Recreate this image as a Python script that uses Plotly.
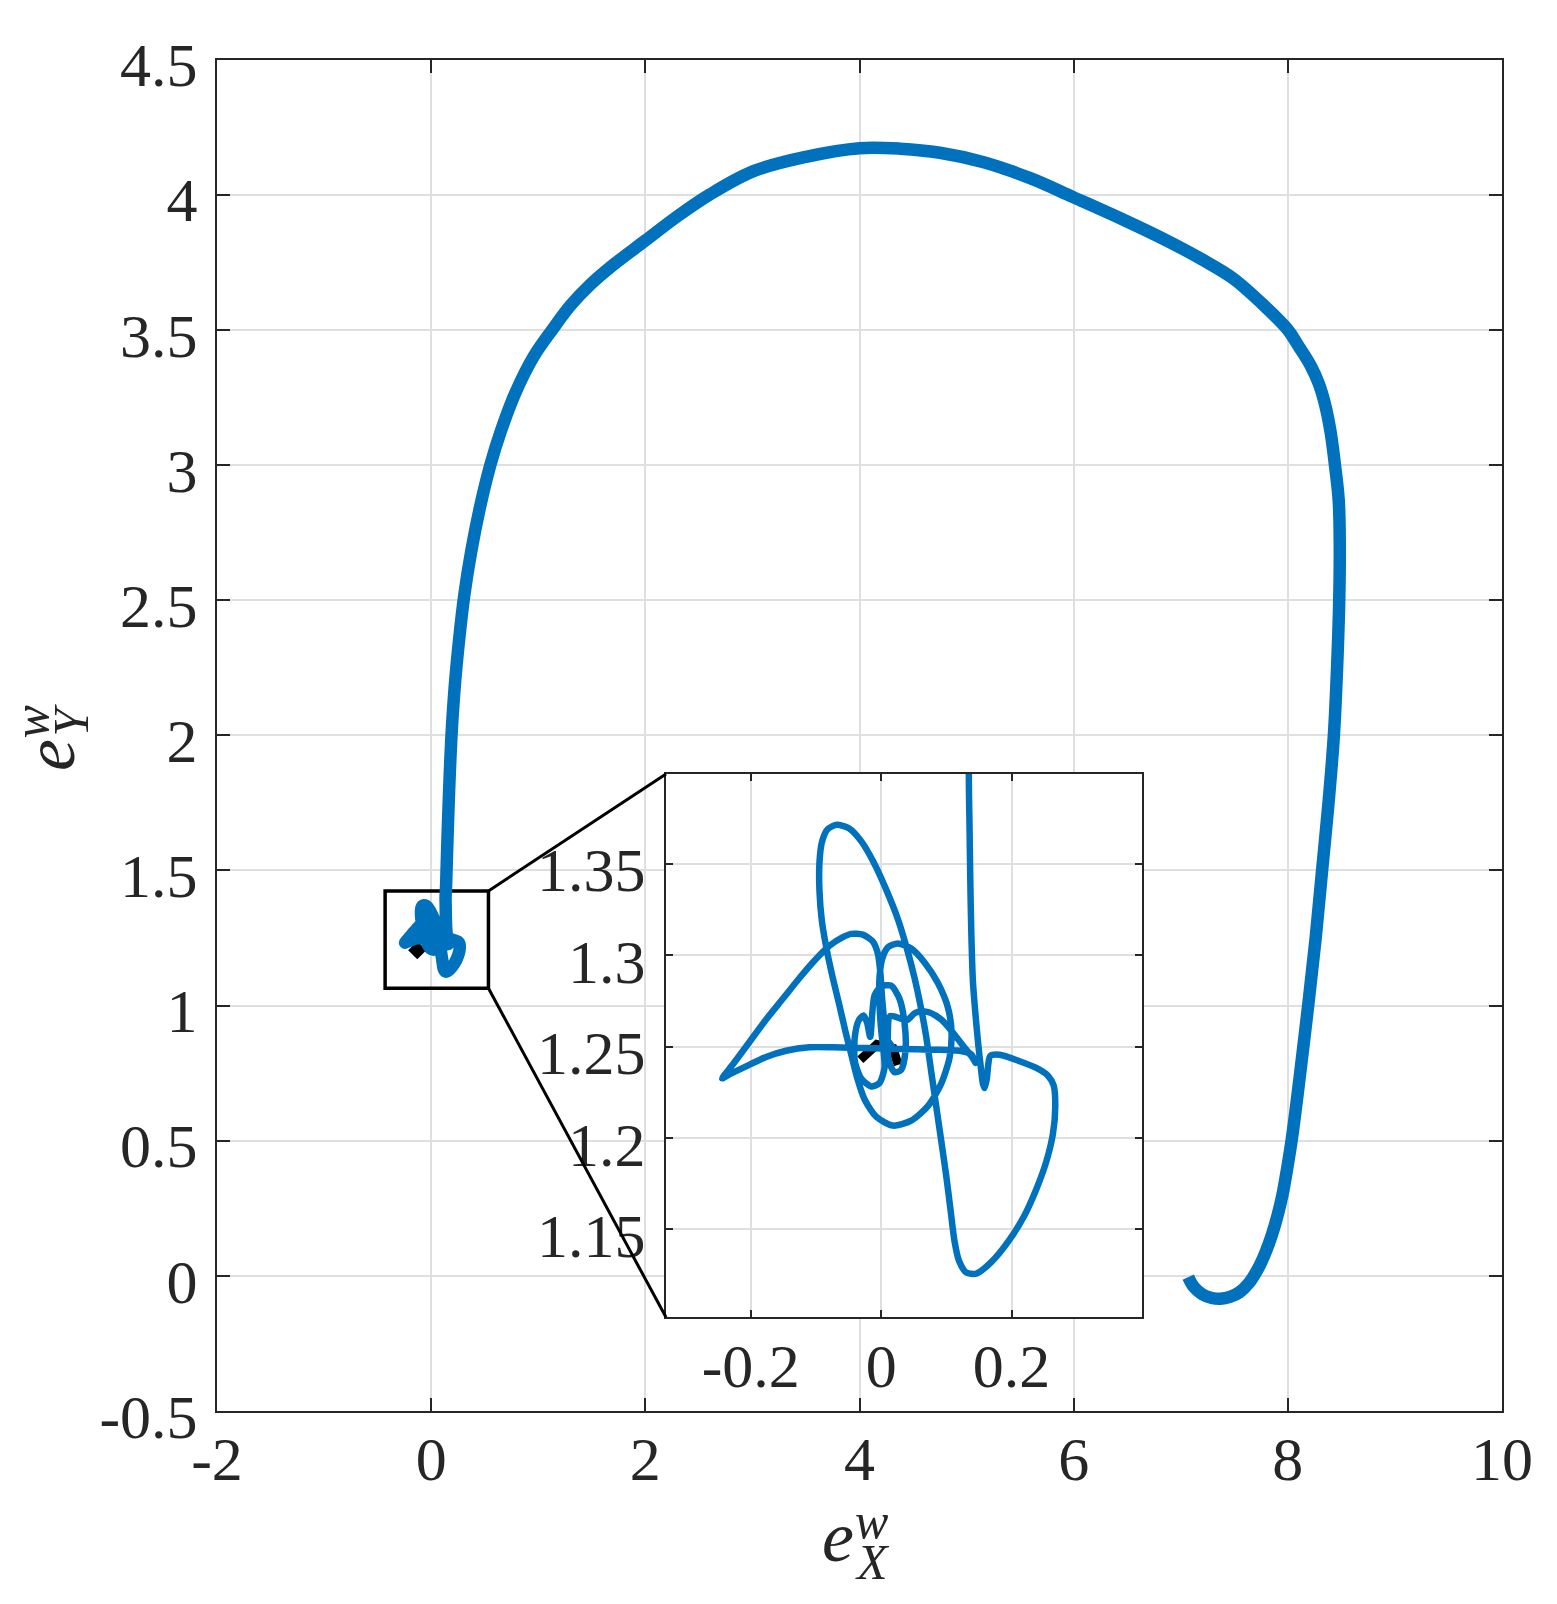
import plotly.graph_objects as go

# ---------------- data ----------------
# large excursion: from the start (bottom right) up, over the top and down into the zoom box
loop_x = [7.07, 7.12, 7.20, 7.29, 7.37, 7.46, 7.55, 7.64, 7.72, 7.79, 7.85, 7.905, 7.95, 7.995, 8.035,
          8.075, 8.115, 8.19, 8.26, 8.32, 8.38, 8.43, 8.46, 8.48, 8.485, 8.475, 8.44, 8.40, 8.35, 8.29, 8.21,
          8.10, 8.0, 7.75, 7.49, 7.2, 6.87, 6.45, 6.0, 5.6, 5.16, 4.75, 4.38, 4.0, 3.5, 3.01,
          2.6, 2.3, 2.0, 1.7, 1.48, 1.30, 1.13, 0.955, 0.79, 0.655, 0.553, 0.454, 0.374, 0.31,
          0.26, 0.22, 0.19, 0.17, 0.155, 0.145, 0.14]
loop_y = [-0.005, -0.04, -0.068, -0.082, -0.085, -0.078, -0.06, -0.025, 0.025, 0.085, 0.15, 0.225, 0.30, 0.40, 0.50,
          0.62, 0.75, 1.0, 1.25, 1.5, 1.75, 2.0, 2.25, 2.5, 2.7, 2.87, 3.0, 3.12, 3.22, 3.30, 3.37,
          3.44, 3.50, 3.60, 3.69, 3.76, 3.83, 3.91, 3.99, 4.06, 4.12, 4.155, 4.17, 4.172, 4.14, 4.087,
          4.0, 3.92, 3.83, 3.74, 3.665, 3.59, 3.5, 3.40, 3.27, 3.13, 3.0, 2.84, 2.68, 2.52,
          2.35, 2.18, 2.0, 1.82, 1.65, 1.52, 1.45]

# small oscillations inside the zoom box (as seen in the inset)
detail_x = [0.1345, 0.1355, 0.1366, 0.1381, 0.1407, 0.1448, 0.1488, 0.1529, 0.1560, 0.1586, 0.1621, 0.1642, 0.1673,
            0.1816, 0.2123, 0.2379, 0.2558, 0.2645,
            0.2670, 0.2634, 0.2532, 0.2379, 0.2199, 0.1969, 0.1688, 0.1458, 0.1304, 0.1192, 0.1125, 0.1064,
            0.0997, 0.0921, 0.0844, 0.0767, 0.0691, 0.0614, 0.0512, 0.0394, 0.0256, 0.0077, -0.0118, -0.0307,
            -0.0496, -0.0680, -0.0818, -0.0905, -0.0946, -0.0946, -0.0910, -0.0834, -0.0742, -0.0639, -0.0547,
            -0.0460, -0.0373, -0.0256, -0.0077, 0.0179, 0.0460, 0.0716, 0.0921, 0.1049, 0.1079, 0.1023, 0.0870,
            0.0665, 0.0460, 0.0256, 0.0102, 0.0015, -0.0026, -0.0026, 0.0000, 0.0036,
            0.0051, -0.0026, -0.0153, -0.0307, -0.0404, -0.0404, -0.0343, -0.0271, -0.0215, -0.0169,
            -0.0102, 0.0000, 0.0153, 0.0281, 0.0358, 0.0373, 0.0307, 0.0205, 0.0118, 0.0102, 0.0138,
            0.0394, 0.0512, 0.0614, 0.0742, 0.0921, 0.1090, 0.1253, 0.1381, 0.1448,
            0.1381, 0.1202, 0.0793, 0.0281, -0.0230, -0.0742, -0.1100, -0.1458, -0.1765, -0.2072, -0.2327, -0.2440,
            -0.2276, -0.2020, -0.1765, -0.1509, -0.1253, -0.1049, -0.0793, -0.0588, -0.0460, -0.0281, -0.0128,
            -0.0051, -0.0015, 0.0015, 0.0051, 0.0102, 0.0179]
detail_y = [1.3992, 1.3708, 1.3424, 1.3140, 1.2856, 1.2667, 1.2515, 1.2383, 1.2297, 1.2273, 1.2326, 1.2402, 1.2449,
            1.2455, 1.2420, 1.2383, 1.2341, 1.2288,
            1.2174, 1.2023, 1.1871, 1.1720, 1.1578, 1.1445, 1.1322, 1.1259, 1.1265, 1.1331, 1.1436, 1.1606,
            1.1795, 1.1985, 1.2174, 1.2364, 1.2553, 1.2705, 1.2875, 1.3036, 1.3197, 1.3358, 1.3509, 1.3623,
            1.3693, 1.3712, 1.3689, 1.3623, 1.3509, 1.3348, 1.3188, 1.3027, 1.2875, 1.2723, 1.2581,
            1.2458, 1.2335, 1.2212, 1.2117, 1.2068, 1.2095, 1.2174, 1.2297, 1.2439, 1.2581, 1.2714, 1.2847,
            1.2960, 1.3036, 1.3064, 1.3042, 1.2979, 1.2875, 1.2742, 1.2591, 1.2477,
            1.2383, 1.2301, 1.2282, 1.2326, 1.2420, 1.2553, 1.2644, 1.2670, 1.2629, 1.2553,
            1.2780, 1.2828, 1.2833, 1.2761, 1.2629, 1.2477, 1.2373, 1.2360, 1.2420, 1.2553, 1.2667,
            1.2644, 1.2682, 1.2693, 1.2686, 1.2648, 1.2581, 1.2506, 1.2449, 1.2411,
            1.2458, 1.2477, 1.2483, 1.2487, 1.2492, 1.2496, 1.2496, 1.2477, 1.2443, 1.2392, 1.2348, 1.2326,
            1.2402, 1.2525, 1.2648, 1.2761, 1.2875, 1.2960, 1.3051, 1.3098, 1.3116, 1.3112, 1.3074,
            1.3008, 1.2913, 1.2761, 1.2629, 1.2534, 1.2496]

traj_x = loop_x + detail_x
traj_y = loop_y + detail_y

# black reference mark
ref_x = [-0.032, -0.0066, 0.018, 0.026]
ref_y = [1.2428, 1.2511, 1.249, 1.240]
mark_x = [-0.13]
mark_y = [1.205]

# zoom box (main axes data units)
box_x = [-0.43, 0.535]
box_y = [1.064, 1.424]

main_xticks = [-2, 0, 2, 4, 6, 8, 10]
main_xlabels = ["-2", "0", "2", "4", "6", "8", "10"]
main_yticks = [-0.5, 0, 0.5, 1, 1.5, 2, 2.5, 3, 3.5, 4, 4.5]
main_ylabels = ["-0.5", "0", "0.5", "1", "1.5", "2", "2.5", "3", "3.5", "4", "4.5"]
inset_xticks = [-0.2, 0, 0.2]
inset_xlabels = ["-0.2", "0", "0.2"]
inset_yticks = [1.15, 1.2, 1.25, 1.3, 1.35]
inset_ylabels = ["1.15", "1.2", "1.25", "1.3", "1.35"]

main_xrange = [-2, 10]
main_yrange = [-0.5, 4.5]
inset_xrange = [-0.33, 0.4]
inset_yrange = [1.102, 1.399]

# ---------------- layout geometry (screen pixels -> paper) ----------------
OFF = 8                      # default page margin around the figure
W, H = 1557 - 2 * OFF, 1604 - 2 * OFF


def sx(px):
    return (px - OFF) / W


def sy(py):
    return 1 - (py - OFF) / H


main_xdom = [sx(217), sx(1502)]
main_ydom = [sy(1411), sy(59.5)]
inset_xdom = [sx(666), sx(1142)]
inset_ydom = [sy(1317.3), sy(774)]

BLUE = "#0072BD"
AX = "#262626"
GRID = "#dfdfdf"
FONT = "Liberation Serif"

fig = go.Figure()
fig.add_trace(go.Scatter(x=mark_x, y=mark_y, mode="markers",
                         marker=dict(symbol="diamond", size=14, color="black"),
                         xaxis="x", yaxis="y", hoverinfo="skip"))
fig.add_trace(go.Scatter(x=traj_x, y=traj_y, mode="lines",
                         line=dict(color=BLUE, width=12.5, shape="spline", smoothing=1.0),
                         xaxis="x", yaxis="y", hoverinfo="skip"))
fig.add_trace(go.Scatter(x=ref_x, y=ref_y, mode="lines",
                         line=dict(color="black", width=9),
                         xaxis="x2", yaxis="y2", hoverinfo="skip"))
fig.add_trace(go.Scatter(x=traj_x, y=traj_y, mode="lines",
                         line=dict(color=BLUE, width=6.5, shape="spline", smoothing=0.7),
                         xaxis="x2", yaxis="y2", hoverinfo="skip"))


def axis(dom, rng, tv, tt, anchor, ticklen, standoff, shift):
    return dict(domain=dom, range=rng, tickvals=tv, ticktext=tt, anchor=anchor,
                ticks="inside", ticklen=ticklen, tickwidth=2, tickcolor=AX,
                showline=True, linecolor=AX, linewidth=2, mirror="ticks",
                showgrid=True, gridcolor=GRID, gridwidth=2, zeroline=False,
                tickfont=dict(family=FONT, size=62, color=AX), automargin=False,
                ticklabelstandoff=standoff, ticklabelshift=shift, fixedrange=True)


fig.update_layout(
    width=W, height=H, margin=dict(l=0, r=0, t=0, b=0, autoexpand=False),
    paper_bgcolor="white", plot_bgcolor="white", showlegend=False,
    xaxis=axis(main_xdom, main_xrange, main_xticks, main_xlabels, "y", 13, -7, 0),
    yaxis=axis(main_ydom, main_yrange, main_yticks, main_ylabels, "x", 13, 5, 5),
    xaxis2=axis(inset_xdom, inset_xrange, inset_xticks, inset_xlabels, "y2", 7, -7, 0),
    yaxis2=axis(inset_ydom, inset_yrange, inset_yticks, inset_ylabels, "x2", 7, 6, 6),
)


# zoom box and connector lines
def paper_to_main(px, py):
    dx = main_xrange[0] + (px - main_xdom[0]) / (main_xdom[1] - main_xdom[0]) * (main_xrange[1] - main_xrange[0])
    dy = main_yrange[0] + (py - main_ydom[0]) / (main_ydom[1] - main_ydom[0]) * (main_yrange[1] - main_yrange[0])
    return dx, dy


tl = paper_to_main(inset_xdom[0], inset_ydom[1])
bl = paper_to_main(inset_xdom[0], inset_ydom[0])
fig.add_shape(type="rect", xref="x", yref="y", x0=box_x[0], x1=box_x[1], y0=box_y[0], y1=box_y[1],
              line=dict(color="black", width=3.5), layer="between")
fig.add_shape(type="line", xref="x", yref="y", x0=box_x[1], y0=box_y[1], x1=tl[0], y1=tl[1],
              line=dict(color="black", width=3), layer="above")
fig.add_shape(type="line", xref="x", yref="y", x0=box_x[1], y0=box_y[0], x1=bl[0], y1=bl[1],
              line=dict(color="black", width=3), layer="above")


# axis labels e^w_X and e^w_Y (positions in screen pixels)
def lab(text, x, y, size, angle=0):
    fig.add_annotation(text=text, x=sx(x), y=sy(y), xref="paper", yref="paper",
                       showarrow=False, xanchor="center", yanchor="middle", textangle=angle,
                       font=dict(family=FONT, size=size, color=AX, style="italic"))


lab("e", 837.5, 1537.3, 72)
lab("w", 871, 1520.6, 50)
lab("X", 872.5, 1561.5, 50)
lab("e", 50, 755, 72, -90)
lab("w", 31, 722.5, 50, -90)
lab("Y", 70.5, 720, 50, -90)

fig.write_html("out.html")
